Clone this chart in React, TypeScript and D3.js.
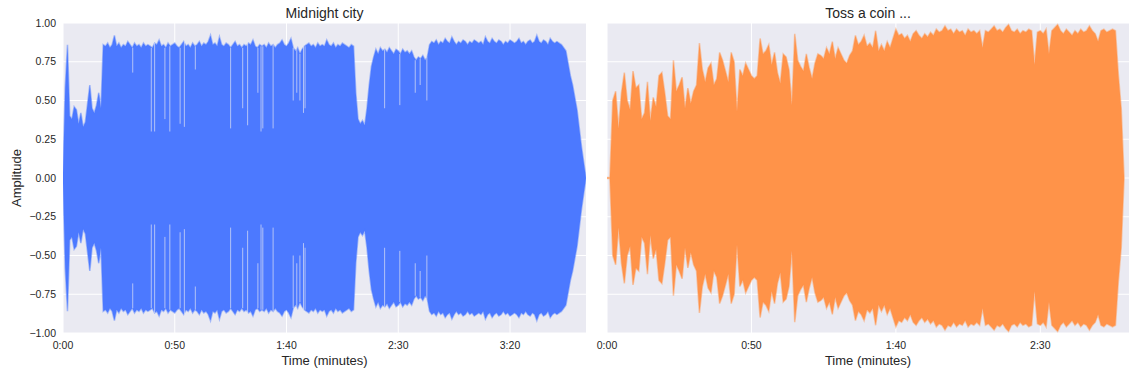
import React from "react";
import * as d3 from "d3";

const WIDTH = 1135;
const HEIGHT = 375;
const PANEL_TOP = 23;
const PANEL_BOTTOM = 333;
const BG = "#eaeaf2";
const TEXT = "#262626";
const FONT = "'Liberation Sans', Arial, sans-serif";

// amplitude ticks shared by both panels
const ampTicks = [-1, -0.75, -0.5, -0.25, 0, 0.25, 0.5, 0.75, 1];

// Midnight city: peak amplitude per second (symmetric envelope)
const midnightTitle = "Midnight city";
const midnightStep = 1;
const midnightDuration = 234;
const midnightTicks = [0, 50, 100, 150, 200];
const midnightPeaks = [
  0.03, 0.58, 0.86, 0.40, 0.38, 0.46, 0.44, 0.35, 0.42, 0.33,
  0.36, 0.48, 0.60, 0.45, 0.42, 0.47, 0.55, 0.45, 0.86, 0.85,
  0.87, 0.84, 0.86, 0.92, 0.85, 0.87, 0.84, 0.86, 0.85, 0.88,
  0.86, 0.84, 0.87, 0.85, 0.86, 0.84, 0.87, 0.85, 0.86, 0.85,
  0.84, 0.87, 0.86, 0.89, 0.85, 0.86, 0.84, 0.87, 0.85, 0.86,
  0.87, 0.85, 0.84, 0.86, 0.88, 0.85, 0.86, 0.84, 0.87, 0.85,
  0.86, 0.88, 0.85, 0.87, 0.86, 0.88, 0.92, 0.86, 0.87, 0.85,
  0.91, 0.86, 0.85, 0.87, 0.86, 0.84, 0.86, 0.88, 0.85, 0.86,
  0.84, 0.86, 0.85, 0.87, 0.86, 0.89, 0.85, 0.84, 0.86, 0.85,
  0.86, 0.84, 0.87, 0.85, 0.86, 0.84, 0.86, 0.87, 0.89, 0.86,
  0.85, 0.87, 0.90, 0.84, 0.82, 0.84, 0.80, 0.83, 0.85, 0.86,
  0.87, 0.85, 0.86, 0.84, 0.87, 0.85, 0.86, 0.85, 0.89, 0.86,
  0.85, 0.87, 0.84, 0.86, 0.85, 0.87, 0.86, 0.85, 0.84, 0.86,
  0.85, 0.55, 0.38, 0.35, 0.37, 0.34, 0.45, 0.60, 0.72, 0.78,
  0.83, 0.80, 0.84, 0.82, 0.83, 0.81, 0.84, 0.82, 0.80, 0.83,
  0.82, 0.80, 0.83, 0.81, 0.82, 0.80, 0.82, 0.78, 0.76, 0.78,
  0.77, 0.79, 0.76, 0.78, 0.86, 0.88, 0.87, 0.89, 0.86, 0.88,
  0.87, 0.90, 0.88, 0.87, 0.91, 0.88, 0.86, 0.88, 0.87, 0.89,
  0.88, 0.86, 0.88, 0.87, 0.89, 0.88, 0.87, 0.88, 0.86, 0.91,
  0.88, 0.87, 0.90, 0.88, 0.87, 0.89, 0.88, 0.86, 0.88, 0.87,
  0.89, 0.88, 0.87, 0.88, 0.90, 0.87, 0.88, 0.86, 0.88, 0.89,
  0.87, 0.88, 0.92, 0.88, 0.87, 0.89, 0.88, 0.86, 0.90, 0.88,
  0.87, 0.88, 0.87, 0.86, 0.84, 0.82, 0.74, 0.66, 0.60, 0.52,
  0.44, 0.32, 0.20, 0.10, 0,
];
// short quiet moments: [seconds, amplitude they fall to]
const midnightDips = [
  [31.2, 0.68], [39.5, 0.3], [41, 0.3], [45.6, 0.38], [47.8, 0.3],
  [52.4, 0.35], [54.3, 0.33], [59.2, 0.7], [75, 0.32], [80.4, 0.45],
  [82.6, 0.34], [87.2, 0.55], [88.6, 0.3], [89.4, 0.32], [94, 0.32],
  [103, 0.5], [104.6, 0.55], [106, 0.5], [107.6, 0.42], [108.3, 0.45],
  [143.9, 0.45], [150.7, 0.47], [157.6, 0.55], [159.8, 0.6], [162.8, 0.5],
];

// Toss a coin: peak amplitude per second
const tossTitle = "Toss a coin ...";
const tossStep = 1;
const tossDuration = 180.7;
const tossTicks = [0, 50, 100, 150];
const tossPeaks = [
  0.003, 0.003, 0.50, 0.56, 0.32, 0.55, 0.68, 0.50, 0.44, 0.69,
  0.58, 0.60, 0.38, 0.42, 0.62, 0.37, 0.52, 0.46, 0.66, 0.68,
  0.55, 0.40, 0.38, 0.76, 0.56, 0.60, 0.65, 0.45, 0.58, 0.48,
  0.56, 0.60, 0.87, 0.70, 0.62, 0.71, 0.74, 0.60, 0.64, 0.81,
  0.76, 0.69, 0.62, 0.81, 0.75, 0.43, 0.70, 0.66, 0.74, 0.70,
  0.66, 0.64, 0.66, 0.90, 0.80, 0.82, 0.86, 0.73, 0.81, 0.68,
  0.61, 0.80, 0.78, 0.70, 0.47, 0.93, 0.76, 0.72, 0.69, 0.80,
  0.71, 0.64, 0.74, 0.80, 0.79, 0.77, 0.84, 0.80, 0.88, 0.77,
  0.84, 0.80, 0.76, 0.74, 0.79, 0.82, 0.92, 0.86, 0.88, 0.92,
  0.85, 0.87, 0.84, 0.95, 0.82, 0.86, 0.82, 0.88, 0.84, 0.90,
  0.96, 0.92, 0.93, 0.90, 0.92, 0.88, 0.93, 0.95, 0.92, 0.90,
  0.93, 0.91, 0.94, 0.92, 0.96, 0.94, 0.95, 0.98, 0.95, 0.96,
  0.93, 0.96, 0.94, 0.95, 0.92, 0.96, 0.94, 0.95, 0.93, 0.95,
  0.84, 0.95, 0.94, 0.96, 0.98, 0.95, 0.96, 0.94, 0.97, 0.99,
  0.95, 0.94, 0.96, 0.93, 0.95, 0.94, 0.96, 0.95, 0.73, 0.94,
  0.95, 0.93, 0.96, 0.80, 0.95, 0.97, 0.99, 0.95, 0.93, 0.96,
  0.94, 0.92, 0.95, 0.93, 0.96, 0.94, 0.95, 0.98, 0.95, 0.93,
  0.88, 0.95, 0.96, 0.94, 0.95, 0.96, 0.95, 0.67, 0.45, 0,
];
const tossDips: number[][] = [];

const fmtTime = (s: number) =>
  `${Math.floor(s / 60)}:${String(Math.round(s % 60)).padStart(2, "0")}`;
const fmtAmp = d3.format(".2f");

type PanelProps = {
  id: string;
  left: number;
  right: number;
  title: string;
  peaks: number[];
  step: number;
  duration: number;
  ticks: number[];
  dips: number[][];
  color: string;
  showY: boolean;
};

const Panel = ({ id, left, right, title, peaks, step, duration, ticks, dips, color, showY }: PanelProps) => {
  const x = d3.scaleLinear().domain([0, duration]).range([left, right]);
  const y = d3.scaleLinear().domain([-1, 1]).range([PANEL_BOTTOM, PANEL_TOP]);

  const wave = d3
    .area<number>()
    .x((_, i) => x(i * step))
    .y0((d) => y(-d))
    .y1((d) => y(d));

  return (
    <g>
      <defs>
        <clipPath id={id}>
          <rect x={left} y={PANEL_TOP} width={right - left} height={PANEL_BOTTOM - PANEL_TOP} />
        </clipPath>
      </defs>
      <rect x={left} y={PANEL_TOP} width={right - left} height={PANEL_BOTTOM - PANEL_TOP} fill={BG} />
      {ampTicks.map((t) => (
        <line key={"h" + t} x1={left} x2={right} y1={y(t)} y2={y(t)} stroke="#fff" strokeWidth={1} />
      ))}
      {ticks.map((t) => (
        <line key={"v" + t} x1={x(t)} x2={x(t)} y1={PANEL_TOP} y2={PANEL_BOTTOM} stroke="#fff" strokeWidth={1} />
      ))}
      <g clipPath={`url(#${id})`}>
        {/* soft fringe like the translucent peaks of the waveform */}
        <path d={wave(peaks) || ""} fill={color} stroke={color} strokeOpacity={0.45} strokeWidth={1.6} strokeLinejoin="miter" />
        {dips.map(([t, depth]) => {
          const env = peaks[Math.round(t / step)];
          return (
            <g key={"d" + t} stroke={BG} strokeOpacity={0.65} strokeWidth={1}>
              <line x1={x(t)} x2={x(t)} y1={y(env)} y2={y(depth)} />
              <line x1={x(t)} x2={x(t)} y1={y(-depth)} y2={y(-env)} />
            </g>
          );
        })}
      </g>
      {ticks.map((t) => (
        <text key={"xt" + t} x={x(t)} y={PANEL_BOTTOM + 16} textAnchor="middle" fontSize={10.5} fill={TEXT}>
          {fmtTime(t)}
        </text>
      ))}
      {showY &&
        ampTicks.map((t) => (
          <text key={"yt" + t} x={left - 7} y={y(t)} dy="0.35em" textAnchor="end" fontSize={10.5} fill={TEXT}>
            {fmtAmp(t)}
          </text>
        ))}
      {showY && (
        <text transform={`translate(16,${(PANEL_TOP + PANEL_BOTTOM) / 2}) rotate(-90)`} textAnchor="middle" dy="0.35em" fontSize={13} fill={TEXT}>
          Amplitude
        </text>
      )}
      <text x={(left + right) / 2} y={365} textAnchor="middle" fontSize={13} fill={TEXT}>
        Time (minutes)
      </text>
      <text x={(left + right) / 2} y={18} textAnchor="middle" fontSize={14} fill={TEXT}>
        {title}
      </text>
    </g>
  );
};

export default function App() {
  return (
    <svg
      width={WIDTH}
      height={HEIGHT}
      style={{ position: "absolute", left: 0, top: 0, background: "#fff" }}
      fontFamily={FONT}
    >
      <Panel
        id="clip-midnight"
        left={63}
        right={586}
        title={midnightTitle}
        peaks={midnightPeaks}
        step={midnightStep}
        duration={midnightDuration}
        ticks={midnightTicks}
        dips={midnightDips}
        color="#4c79ff"
        showY={true}
      />
      <Panel
        id="clip-toss"
        left={607}
        right={1129}
        title={tossTitle}
        peaks={tossPeaks}
        step={tossStep}
        duration={tossDuration}
        ticks={tossTicks}
        dips={tossDips}
        color="#ff9349"
        showY={false}
      />
    </svg>
  );
}
